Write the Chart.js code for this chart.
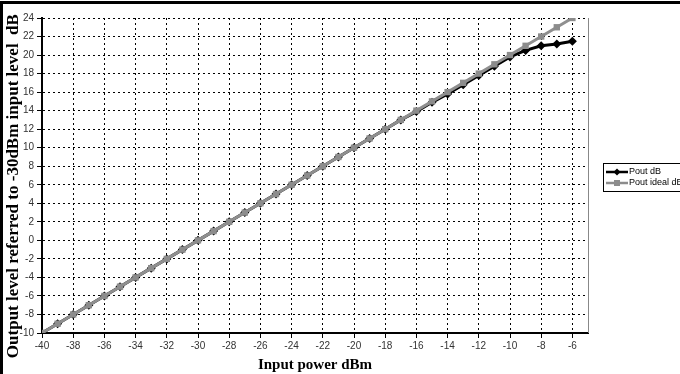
<!DOCTYPE html>
<html>
<head>
<meta charset="utf-8">
<script src="https://cdn.jsdelivr.net/npm/chart.js@4.4.1/dist/chart.umd.min.js"></script>
<style>
html,body{margin:0;padding:0;background:#fff;}
#wrap{position:relative;width:680px;height:374px;overflow:hidden;}
#frameTop{position:absolute;left:0;top:1px;width:680px;height:3px;background:#000;}
#frameLeft{position:absolute;left:0;top:1px;width:3px;height:373px;background:#000;}
canvas{position:absolute;left:0;top:0;}
</style>
</head>
<body>
<div id="wrap">
<canvas id="c" width="680" height="374"></canvas>
<div id="frameTop"></div>
<div id="frameLeft"></div>
</div>
<script>
const inputPower = [-40,-39,-38,-37,-36,-35,-34,-33,-32,-31,-30,-29,-28,-27,-26,-25,-24,-23,-22,-21,-20,-19,-18,-17,-16,-15,-14,-13,-12,-11,-10,-9,-8,-7,-6];
const poutDB = [-10,-9,-8,-7,-6,-5,-4,-3,-2,-1,0,1,2,3,4,5,6,7,8,9,10,11,12,13,13.9,14.9,15.8,16.8,17.8,18.8,19.8,20.5,21.0,21.2,21.5];
const poutIdeal = [-10,-9,-8,-7,-6,-5,-4,-3,-2,-1,0,1,2,3,4,5,6,7,8,9,10,11,12,13,14,15,16,17,18,19,20,21,22,23,24];
const xTickValues = [-40,-38,-36,-34,-32,-30,-28,-26,-24,-22,-20,-18,-16,-14,-12,-10,-8,-6];
const yTickValues = [-10,-8,-6,-4,-2,0,2,4,6,8,10,12,14,16,18,20,22,24];
const seriesNames = ["Pout dB","Pout ideal dB"];
const xTitle = "Input power dBm";
const yTitle = "Output level referred to -30dBm input level  dB";

const toPts = (ys) => inputPower.map((x,i)=>({x:x,y:ys[i]}));

const extras = {
  id:'extras',
  afterDatasetsDraw(chart){
    const {ctx, chartArea:a} = chart;
    ctx.save();
    ctx.strokeStyle = '#888';
    ctx.lineWidth = 1;
    ctx.beginPath();
    ctx.moveTo(a.right+0.5, a.top);
    ctx.lineTo(a.right+0.5, a.bottom);
    ctx.stroke();
    const lx = 603, ly = 163, lw = 100, lh = 28;
    ctx.fillStyle = '#fff';
    ctx.fillRect(lx, ly, lw, lh);
    ctx.strokeStyle = '#000';
    ctx.lineWidth = 1;
    ctx.strokeRect(lx+0.5, ly+0.5, lw, lh);
    ctx.font = '9px "Liberation Sans", Arial, sans-serif';
    ctx.textBaseline = 'middle';
    const rows = [
      {y: ly+9, color:'#000', style:'diamond', name:seriesNames[0]},
      {y: ly+20, color:'#8c8c8c', style:'square', name:seriesNames[1]}
    ];
    rows.forEach(r=>{
      ctx.strokeStyle = r.color;
      ctx.lineWidth = 2.5;
      ctx.beginPath();
      ctx.moveTo(lx+3, r.y);
      ctx.lineTo(lx+25, r.y);
      ctx.stroke();
      ctx.fillStyle = r.color;
      const cx = lx+14;
      if (r.style==='diamond'){
        ctx.beginPath();
        ctx.moveTo(cx, r.y-3.5); ctx.lineTo(cx+3.5, r.y); ctx.lineTo(cx, r.y+3.5); ctx.lineTo(cx-3.5, r.y); ctx.closePath();
        ctx.fill();
      } else {
        ctx.fillRect(cx-3, r.y-3, 6, 6);
      }
      ctx.fillStyle = '#000';
      ctx.fillText(r.name, lx+26, r.y);
    });
    ctx.restore();
  }
};

new Chart(document.getElementById('c'), {
  type:'line',
  data:{
    datasets:[
      {label:seriesNames[0], data:toPts(poutDB), borderColor:'#000', backgroundColor:'#000', borderWidth:3,
       pointStyle:'rectRot', pointRadius:4.5, pointBorderWidth:0, order:1, tension:0},
      {label:seriesNames[1], data:toPts(poutIdeal), borderColor:'#8f8f8f', backgroundColor:'#8c8c8c', borderWidth:3,
       pointStyle:'rect', pointRadius:4.5, pointBorderWidth:0, order:0, tension:0}
    ]
  },
  options:{
    responsive:false,
    animation:false,
    layout:{padding:{left:3, right:92, top:18, bottom:0}},
    plugins:{legend:{display:false}, tooltip:{enabled:false}},
    scales:{
      x:{
        type:'linear', min:-40, max:-5,
        afterBuildTicks(s){ s.ticks = xTickValues.map(v=>({value:v})); },
        afterFit(s){ s.height = 41; },
        ticks:{color:'#333', font:{family:'"Liberation Sans", Arial, sans-serif', size:10}, padding:2, maxRotation:0, autoSkip:false},
        grid:{color:'#000', lineWidth:1, tickBorderDash:[], tickLength:5, tickColor:'#000', drawTicks:true},
        border:{display:true, color:'#000', width:2, dash:[2,3]},
        title:{display:true, text:xTitle, color:'#000', font:{family:'"Liberation Serif", "Times New Roman", serif', size:15, weight:'bold'}, padding:{top:0,bottom:0}}
      },
      y:{
        type:'linear', min:-10, max:24,
        afterBuildTicks(s){ s.ticks = yTickValues.map(v=>({value:v})); },
        afterFit(s){ s.width = 39; },
        ticks:{color:'#333', font:{family:'"Liberation Sans", Arial, sans-serif', size:10}, padding:3},
        grid:{color:'#000', lineWidth:1, tickBorderDash:[], tickLength:5, tickColor:'#000', drawTicks:true},
        border:{display:true, color:'#000', width:2, dash:[2,3]},
        title:{display:true, text:yTitle + "     ", color:'#000', font:{family:'"Liberation Serif", "Times New Roman", serif', size:17, weight:'bold'}, padding:{top:0,bottom:0}}
      }
    }
  },
  plugins:[extras]
});
</script>
</body>
</html>
